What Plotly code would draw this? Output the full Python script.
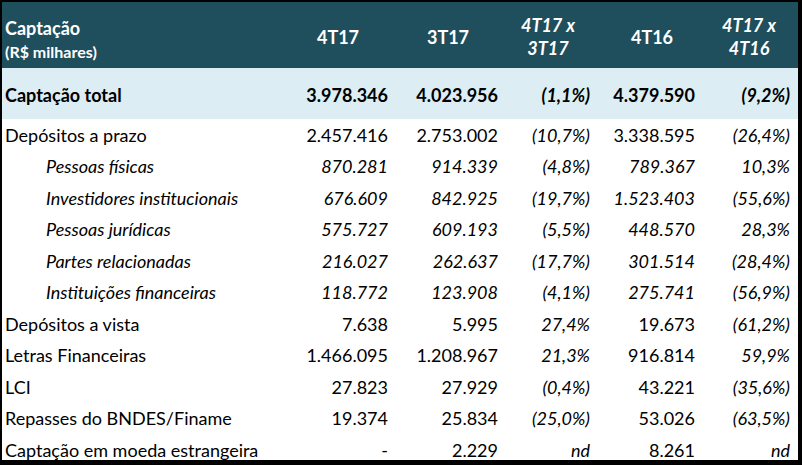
import plotly.graph_objects as go

# ---------------- data ----------------
col_headers = ["Captação", "4T17", "3T17", "4T17 x<br>3T17", "4T16", "4T17 x<br>4T16"]
unit_label = "(R$ milhares)"

total_label = "Captação total"
total_values = [3978346, 4023956, -1.1, 4379590, -9.2]

labels = ["Depósitos a prazo", "Pessoas físicas", "Investidores institucionais",
          "Pessoas jurídicas", "Partes relacionadas", "Instituições financeiras",
          "Depósitos a vista", "Letras Financeiras", "LCI",
          "Repasses do BNDES/Finame", "Captação em moeda estrangeira"]
sub_rows = [False, True, True, True, True, True, False, False, False, False, False]
q4_17 = [2457416, 870281, 676609, 575727, 216027, 118772, 7638, 1466095, 27823, 19374, None]
q3_17 = [2753002, 914339, 842925, 609193, 262637, 123908, 5995, 1208967, 27929, 25834, 2229]
var_q = [-10.7, -4.8, -19.7, -5.5, -17.7, -4.1, 27.4, 21.3, -0.4, -25.0, None]
q4_16 = [3338595, 789367, 1523403, 448570, 301514, 275741, 19673, 916814, 43221, 53026, 8261]
var_y = [-26.4, 10.3, -55.6, 28.3, -28.4, -56.9, -61.2, 59.9, -35.6, -63.5, None]

# ---------------- formatting ----------------
def fmt_num(v):
    if v is None:
        return "-"
    return f"{v:,.0f}".replace(",", ".")

def fmt_pct(v):
    if v is None:
        return "nd"
    s = f"{abs(v):.1f}".replace(".", ",") + "%"
    return f"({s})" if v < 0 else s

def it(s):
    return f"<i>{s}</i>"

def bd(s):
    return f"<b>{s}</b>"

# ---------------- layout constants ----------------
W, H = 802, 465
ML, MR, MT, MB = 2, 4, 2, 5
PW, PH = W - ML - MR, H - MT - MB
FONT = "Lato"
FS = 18
DARK = "#1F4E5C"
LIGHT = "#DCEEF4"

# column geometry (plot-area pixels)
label_x = 3
indent_x = 44
col_right = [386, 496, 588, 693, 788]          # right edge of value text
hdr_center = [336, 446, 546, 650, 747]         # header centres
header_bot, band_bot = 66, 117
hdr_y = 37
hdr_label_y = 40
total_y = 95
row0_y, row_step = 135, 31.5

row_y = [row0_y + row_step * i for i in range(len(labels))]
series = [(q4_17, fmt_num), (q3_17, fmt_num), (var_q, fmt_pct), (q4_16, fmt_num), (var_y, fmt_pct)]

fig = go.Figure()

def add_text(xs, ys, texts, pos, color="black", size=FS):
    fig.add_trace(go.Scatter(x=xs, y=ys, text=texts, mode="text", textposition=pos,
                             textfont=dict(family=FONT, size=size, color=color),
                             hoverinfo="skip", showlegend=False, cliponaxis=False))

# header
add_text([label_x], [hdr_label_y],
         [bd(col_headers[0]) + "<br><span style='font-size:16px'>" + bd(unit_label) + "</span>"],
         "middle right", color="white")
hdr_texts = []
for j, h in enumerate(col_headers[1:]):
    t = bd(h)
    if series[j][1] is fmt_pct:
        t = it(t)
    hdr_texts.append(t)
add_text(hdr_center, [hdr_y] * 5, hdr_texts, "middle center", color="white")

# total row
add_text([label_x], [total_y], [bd(total_label)], "middle right")
tot_texts = []
for v, (_, f) in zip(total_values, series):
    t = bd(f(v))
    if f is fmt_pct:
        t = it(t)
    tot_texts.append(t)
add_text(col_right, [total_y] * 5, tot_texts, "middle left")

# body labels
add_text([indent_x if s else label_x for s in sub_rows], row_y,
         [it(l) if s else l for l, s in zip(labels, sub_rows)], "middle right")

# body values
for c, (arr, f) in enumerate(series):
    texts = []
    for i, v in enumerate(arr):
        t = f(v)
        if sub_rows[i] or f is fmt_pct:
            t = it(t)
        texts.append(t)
    add_text([col_right[c]] * len(arr), row_y, texts, "middle left")

fig.update_layout(
    width=W, height=H,
    margin=dict(l=ML, r=MR, t=MT, b=MB),
    paper_bgcolor="black",
    plot_bgcolor="white",
    xaxis=dict(range=[0, PW], visible=False, fixedrange=True),
    yaxis=dict(range=[PH, 0], visible=False, fixedrange=True),
    shapes=[
        dict(type="rect", xref="x", yref="y", x0=0, x1=PW, y0=0, y1=header_bot,
             fillcolor=DARK, line_width=0, layer="below"),
        dict(type="rect", xref="x", yref="y", x0=0, x1=PW, y0=header_bot, y1=band_bot,
             fillcolor=LIGHT, line_width=0, layer="below"),
    ],
)

fig.write_html("out.html", config=dict(displayModeBar=False),
               post_script="document.body.style.margin='0px';")
